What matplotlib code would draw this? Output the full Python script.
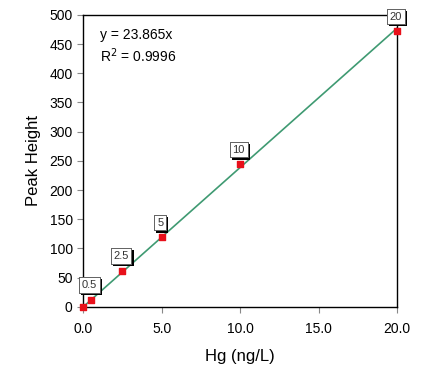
import numpy as np
import matplotlib.pyplot as plt
import matplotlib.patheffects as pe

plt.rcParams['font.family'] = ['Liberation Sans', 'DejaVu Sans']

hg = [0.0, 0.5, 2.5, 5.0, 10.0, 20.0]
peak = [0, 12, 62, 119, 244, 472]
point_labels = ['', '0.5', '2.5', '5', '10', '20']
slope = 23.865
r2 = 0.9996


fig = plt.figure(figsize=(4.33, 3.72), dpi=100)
ax = fig.add_axes([0.192, 0.175, 0.725, 0.785])

fit_x = np.array([0, 20])
ax.plot(fit_x, slope * fit_x, color='#3f9a72', lw=1.2, zorder=2)
ax.scatter(hg, peak, marker='s', s=24, color='#e8101a', zorder=3, clip_on=False)

for x, y, lab in zip(hg, peak, point_labels):
    if not lab:
        continue
    t = ax.annotate(lab, (x, y), xytext=(-1, 7), textcoords='offset points',
                    ha='center', va='bottom', fontsize=8, color='#333333',
                    bbox=dict(boxstyle='square,pad=0.25', fc='white', ec='#555555', lw=0.6),
                    zorder=4, annotation_clip=False)
    t.get_bbox_patch().set_path_effects([
        pe.withSimplePatchShadow(offset=(1.5, -1.5), shadow_rgbFace='black', alpha=1.0),
        pe.Normal()])

ax.text(0.055, 0.955, 'y = 23.865x\nR$^2$ = %.4f' % r2, transform=ax.transAxes,
        ha='left', va='top', fontsize=10, linespacing=1.25)

ax.set_xlim(0, 20)
ax.set_ylim(0, 500)
ax.set_xticks(np.arange(0, 20.1, 5))
ax.set_xticklabels(['0.0', '5.0', '10.0', '15.0', '20.0'])
ax.set_yticks(np.arange(0, 501, 50))
ax.tick_params(labelsize=10, direction='out', length=4, width=0.8, color='#888888')
ax.tick_params(axis='x', pad=7)
for s in ax.spines.values():
    s.set_linewidth(1.0)
ax.set_xlabel('Hg (ng/L)', fontsize=12, labelpad=9)
ax.set_ylabel('Peak Height', fontsize=12, labelpad=6)

fig.savefig('out.png', dpi=100)
